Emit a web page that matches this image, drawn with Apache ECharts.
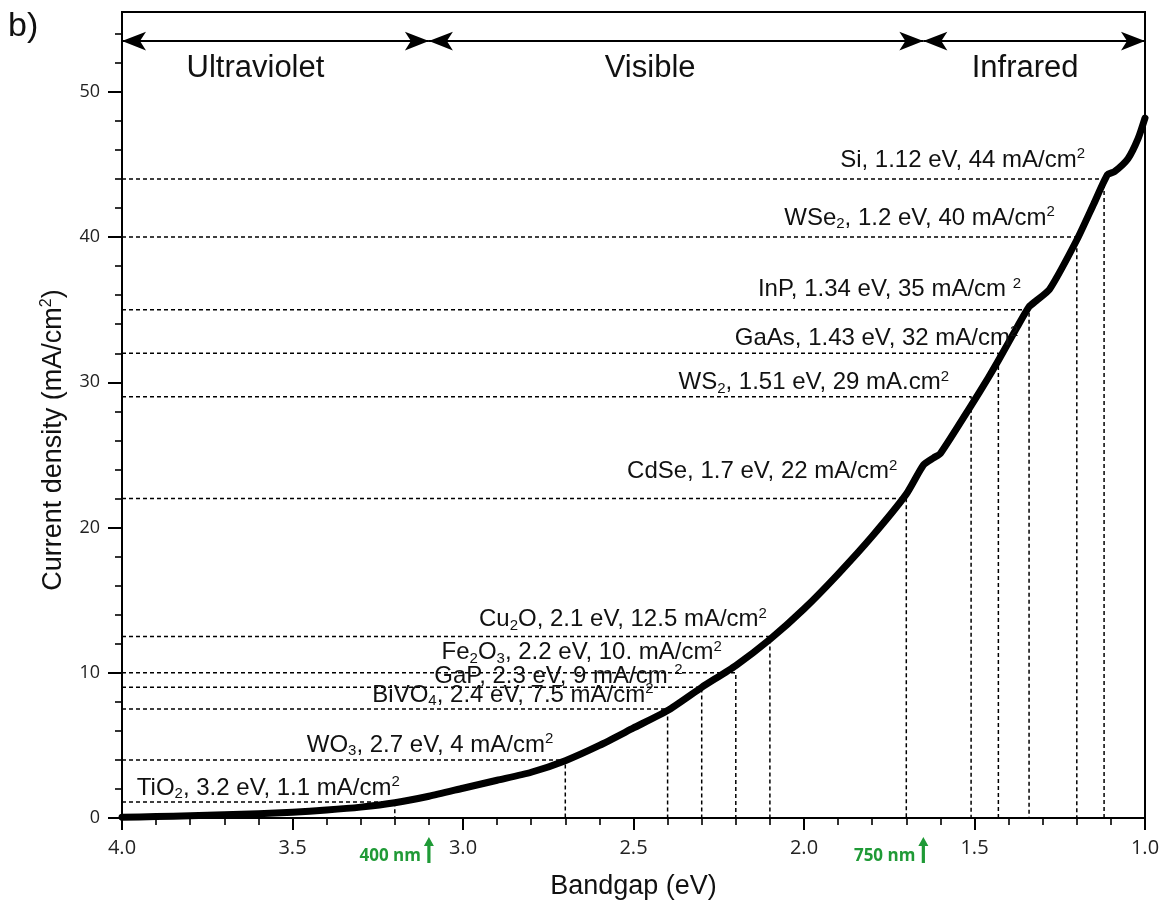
<!DOCTYPE html>
<html>
<head>
<meta charset="utf-8">
<script src="https://cdn.jsdelivr.net/npm/echarts@6/dist/echarts.min.js"></script>
<style>
  html, body { margin: 0; padding: 0; background: #fff; }
  #chart { width: 1167px; height: 912px; }
</style>
</head>
<body>
<div id="chart"></div>
<script>
// Maximum photocurrent density versus semiconductor bandgap (AM1.5G)
const bandgap = [4.0, 3.9, 3.8, 3.7, 3.6, 3.5, 3.4, 3.3, 3.2, 3.1, 3.0, 2.9, 2.8, 2.7, 2.6, 2.5, 2.4, 2.3, 2.2, 2.1,
                 2.0, 1.9, 1.8, 1.7, 1.65, 1.62, 1.6, 1.51, 1.46, 1.43, 1.375, 1.34, 1.32, 1.28, 1.2, 1.15, 1.11,
                 1.09, 1.05, 1.02, 1.0];
const currentDensity = [0.05, 0.1, 0.15, 0.22, 0.3, 0.4, 0.55, 0.75, 1.05, 1.5, 2.05, 2.6, 3.15, 3.95, 5.0, 6.2, 7.4, 9.0, 10.5, 12.3,
                        14.4, 16.8, 19.4, 22.3, 24.3, 24.8, 25.1, 28.4, 30.3, 31.5, 33.8, 35.2, 35.6, 36.4, 39.8, 42.3, 44.3,
                        44.5, 45.4, 46.8, 48.2];

// Semiconductors marked on the curve
const materialGap = [3.2, 2.7, 2.4, 2.3, 2.2, 2.1, 1.7, 1.51, 1.43, 1.34, 1.2, 1.12];
const materialCurrent = [1.1, 4, 7.5, 9, 10, 12.5, 22, 29, 32, 35, 40, 44];
const materialLabels = [
  'TiO₂, 3.2 eV, 1.1 mA/cm²',
  'WO₃, 2.7 eV, 4 mA/cm²',
  'BiVO₄, 2.4 eV, 7.5 mA/cm²',
  'GaP, 2.3 eV, 9 mA/cm ²',
  'Fe₂O₃, 2.2 eV, 10. mA/cm²',
  'Cu₂O, 2.1 eV, 12.5 mA/cm²',
  'CdSe, 1.7 eV, 22 mA/cm²',
  'WS₂, 1.51 eV, 29 mA.cm²',
  'GaAs, 1.43 eV, 32 mA/cm²',
  'InP, 1.34 eV, 35 mA/cm ²',
  'WSe₂, 1.2 eV, 40 mA/cm²',
  'Si, 1.12 eV, 44 mA/cm²'
];

// Spectral regions and their boundaries (eV)
const regionNames = ['Ultraviolet', 'Visible', 'Infrared'];
const regionEdges = [4.0, 3.1, 1.65, 1.0];
const edgeMarkNames = ['400 nm', '750 nm'];
const edgeMarkGap = [3.1, 1.65];

// Axis ticks
const yMajorTicks = [0, 10, 20, 30, 40, 50];
const yMinorTicks = [0, 2, 4, 6, 8, 10, 12, 14, 16, 18, 20, 22, 24, 26, 28, 30, 32, 34, 36, 38, 40, 42, 44, 46, 48, 50, 52, 54];

// ---- layout (pixel offsets for the text) ----
const labelOffsets = [[5, -14], [-12, -15], [-14, -14], [-19, -11], [-14, -20], [-3, -17],
                      [-9, -27], [-22, -14], [20, -15], [-8, -20], [-22, -19], [-19, -19]];
const regionLabelOffsets = [[-20, 27], [-26, 27], [-9, 27]];
const arrowLevel = 53.5;

const BLACK = '#000';
const INK = '#111';
const GREEN = '#1f9a36';
const SANS = '"Liberation Sans", Arial, Helvetica, sans-serif';
const TICKFONT = '"Open Sans", "DejaVu Sans", sans-serif';

function richify(s) {
  return s.replace(/₂/g, '{sub|2}').replace(/₃/g, '{sub|3}').replace(/₄/g, '{sub|4}').replace(/²/g, '{sup|2}');
}
const richStyles = {
  sub: { fontSize: 15, lineHeight: 27, verticalAlign: 'bottom', fontFamily: SANS, color: INK },
  sup: { fontSize: 15, lineHeight: 27, verticalAlign: 'top', fontFamily: SANS, color: INK }
};

const chart = echarts.init(document.getElementById('chart'), null, { renderer: 'canvas' });

const series = [];

// Dashed guides from each material point to both axes
materialGap.forEach((eg, i) => {
  const j = materialCurrent[i];
  series.push({
    type: 'line',
    silent: true,
    showSymbol: false,
    z: 2,
    data: [[4.0, j], [eg, j], [eg, 0]],
    lineStyle: { color: BLACK, width: 1.5, type: [4, 3] }
  });
});

// Photocurrent curve
series.push({
  type: 'line',
  name: 'Jmax',
  showSymbol: false,
  smooth: 0.2,
  z: 5,
  data: bandgap.map((x, i) => [x, currentDensity[i]]),
  lineStyle: { color: BLACK, width: 7, cap: 'round', join: 'round' }
});

// Material labels
series.push({
  type: 'scatter',
  symbolSize: 0,
  silent: true,
  z: 6,
  itemStyle: { opacity: 1 },
  data: materialGap.map((eg, i) => ({
    value: [eg, materialCurrent[i]],
    label: { offset: labelOffsets[i] }
  })),
  label: {
    show: true,
    position: 'left',
    distance: 0,
    fontFamily: SANS,
    fontSize: 24,
    lineHeight: 27,
    color: INK,
    formatter: p => richify(materialLabels[p.dataIndex]),
    rich: richStyles
  }
});

// Spectral region arrows along the top
series.push({
  type: 'line',
  data: [],
  silent: true,
  markLine: {
    silent: true,
    animation: false,
    symbol: ['arrow', 'arrow'],
    symbolSize: [14, 24],
    lineStyle: { color: BLACK, width: 2, type: 'solid' },
    itemStyle: { color: BLACK },
    label: { show: false },
    data: regionNames.map((n, i) => [
      { coord: [regionEdges[i], arrowLevel] },
      { coord: [regionEdges[i + 1], arrowLevel] }
    ])
  }
});

// Region names
series.push({
  type: 'scatter',
  symbolSize: 0,
  silent: true,
  itemStyle: { opacity: 1 },
  data: regionNames.map((n, i) => ({
    value: [(regionEdges[i] + regionEdges[i + 1]) / 2, arrowLevel],
    label: { offset: regionLabelOffsets[i] }
  })),
  label: {
    show: true,
    position: 'inside',
    fontFamily: SANS,
    fontSize: 31,
    color: INK,
    formatter: p => regionNames[p.dataIndex]
  }
});

// Wavelength markers below the bandgap axis
series.push({
  type: 'scatter',
  silent: true,
  clip: false,
  symbol: 'path://M5,0 L10,9 L6.6,9 L6.6,26 L3.4,26 L3.4,9 L0,9 Z',
  symbolSize: [10, 26],
  symbolOffset: [0, 32],
  itemStyle: { color: GREEN, opacity: 1 },
  data: edgeMarkGap.map(eg => [eg, 0]),
  label: {
    show: true,
    position: 'left',
    distance: 3,
    offset: [0, 6],
    fontFamily: TICKFONT,
    fontWeight: 'bold',
    fontSize: 17,
    color: GREEN,
    formatter: p => edgeMarkNames[p.dataIndex]
  }
});

chart.setOption({
  animation: false,
  backgroundColor: '#fff',
  grid: {
    left: 122, right: 22, top: 12, bottom: 94,
    show: true, borderColor: BLACK, borderWidth: 2, backgroundColor: 'transparent'
  },
  xAxis: {
    type: 'value',
    min: 1.0, max: 4.0, interval: 0.5,
    inverse: true,
    name: 'Bandgap (eV)',
    nameLocation: 'middle',
    nameGap: 55,
    nameTextStyle: { fontFamily: SANS, fontSize: 27, color: INK },
    axisLine: { show: true, onZero: false, lineStyle: { color: BLACK, width: 2 } },
    axisTick: { show: true, inside: false, length: 12, lineStyle: { color: BLACK, width: 2 } },
    minorTick: { show: true, splitNumber: 5, length: 7, lineStyle: { color: BLACK, width: 1.6 } },
    axisLabel: {
      fontFamily: TICKFONT, fontSize: 20, color: '#222', margin: 20,
      formatter: v => v.toFixed(1)
    },
    splitLine: { show: false }
  },
  yAxis: [
    {
      type: 'value',
      position: 'left',
      min: 0, max: 55.5, interval: 10,
      name: 'Current density (mA/cm{sup|2})',
      nameLocation: 'middle',
      nameGap: 46,
      nameTextStyle: {
        fontFamily: SANS, fontSize: 27, color: INK, padding: [0, 50, 0, 0],
        rich: { sup: { fontSize: 16, verticalAlign: 'top', lineHeight: 30, fontFamily: SANS, color: INK } },
        lineHeight: 30
      },
      axisLine: { show: true, onZero: false, lineStyle: { color: BLACK, width: 2 } },
      axisTick: { show: true, inside: false, length: 14, customValues: yMajorTicks, lineStyle: { color: BLACK, width: 2 } },
      axisLabel: { fontFamily: TICKFONT, fontSize: 18, color: '#222', margin: 22, customValues: yMajorTicks },
      splitLine: { show: false }
    },
    {
      type: 'value',
      position: 'left',
      min: 0, max: 55.5, interval: 2,
      axisLine: { show: false },
      axisTick: { show: true, inside: false, length: 7, customValues: yMinorTicks, lineStyle: { color: BLACK, width: 1.6 } },
      axisLabel: { show: false },
      splitLine: { show: false }
    }
  ],
  graphic: [
    {
      type: 'text',
      left: 8, top: 10,
      style: { text: 'b)', fontFamily: SANS, fontSize: 34, fill: INK }
    }
  ],
  series: series
});
</script>
</body>
</html>
